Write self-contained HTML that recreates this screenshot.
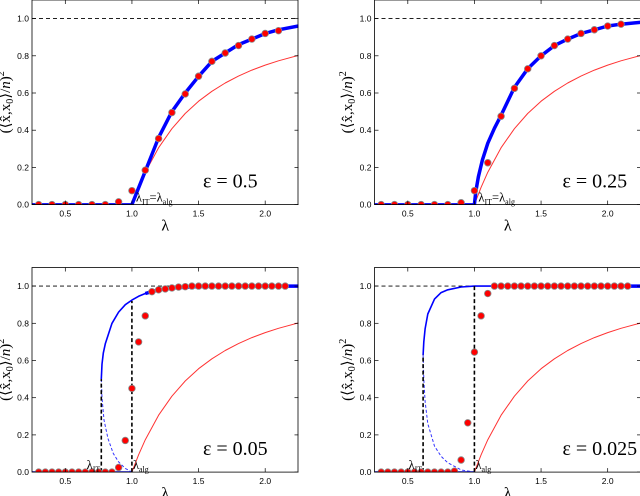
<!DOCTYPE html>
<html><head><meta charset="utf-8"><style>
body{margin:0;background:#fff;width:640px;height:496px;overflow:hidden}
svg{display:block}
text{font-family:"Liberation Sans",sans-serif}
.serif{font-family:"Liberation Serif","DejaVu Serif",serif}
</style></head><body>
<svg id="fig" width="640" height="496" viewBox="0 0 640 496" xmlns="http://www.w3.org/2000/svg"></svg>
<script>
// ---- data ----
const xTicks=[0.5,1.0,1.5,2.0];
const yTicks=[0.0,0.2,0.4,0.6,0.8,1.0];
const epsLabels=["0.5","0.25","0.05","0.025"];
// red reference curve (lambda, value)
const redX=[1.0,1.05,1.1,1.2,1.3,1.4,1.5,1.6,1.7,1.8,1.9,2.0,2.1,2.25];
const redY=[0,0.093,0.174,0.306,0.408,0.49,0.556,0.609,0.654,0.691,0.723,0.75,0.773,0.802];
// panel A eps=0.5
const aCurveX=[1.0,1.05,1.1,1.2,1.3,1.4,1.5,1.6,1.7,1.8,1.9,2.0,2.1,2.25];
const aCurveY=[0,0.09,0.18,0.36,0.5,0.6,0.69,0.77,0.815,0.86,0.89,0.92,0.94,0.96];
const aDotX=[0.3,0.4,0.5,0.6,0.7,0.8,0.9,1.0,1.1,1.2,1.3,1.4,1.5,1.6,1.7,1.8,1.9,2.0,2.1];
const aDotY=[0,0,0,0,0,0,0.015,0.075,0.185,0.355,0.495,0.595,0.69,0.77,0.815,0.855,0.89,0.92,0.935];
// panel B eps=0.25
const bCurveX=[1.0,1.01,1.03,1.06,1.1,1.15,1.2,1.3,1.4,1.5,1.6,1.7,1.8,1.9,2.0,2.1,2.25];
const bCurveY=[0,0.07,0.15,0.24,0.33,0.41,0.48,0.63,0.73,0.8,0.855,0.89,0.92,0.94,0.96,0.97,0.98];
const bDotX=[0.3,0.4,0.5,0.6,0.7,0.8,0.9,1.0,1.1,1.2,1.3,1.4,1.5,1.6,1.7,1.8,1.9,2.0,2.1];
const bDotY=[0,0,0,0,0,0,0.01,0.075,0.225,0.475,0.625,0.73,0.8,0.855,0.89,0.92,0.94,0.96,0.97];
// panel C eps=0.05
const cUpX=[0.77,0.775,0.785,0.8,0.85,0.9,0.95,1.0,1.05,1.1,1.2,1.3,1.5,1.8,2.25];
const cUpY=[0.5,0.58,0.64,0.69,0.8,0.86,0.9,0.925,0.945,0.96,0.98,0.99,0.998,1.0,1.0];
const cUnX=[0.77,0.775,0.79,0.82,0.86,0.9,0.95,1.0];
const cUnY=[0.5,0.4,0.28,0.18,0.1,0.055,0.02,0];
const cIT=0.77, cITtop=0.5, cALGtop=0.92;
const cDotX=[0.3,0.35,0.4,0.45,0.5,0.55,0.6,0.65,0.7,0.75,0.8,0.85,0.9,0.95,1.0,1.05,1.1,1.15,1.2,1.25,1.3,1.35,1.4,1.45,1.5,1.55,1.6,1.65,1.7,1.75,1.8,1.85,1.9,1.95,2.0,2.05,2.1,2.15];
const cDotY=[0,0,0,0,0,0,0,0,0,0,0,0,0.025,0.17,0.45,0.7,0.84,0.97,0.98,0.985,0.99,0.995,0.997,1,1,1,1,1,1,1,1,1,1,1,1,1,1,1];
// panel D eps=0.025
const dUpX=[0.615,0.62,0.63,0.65,0.7,0.75,0.8,0.9,1.0,1.2,2.25];
const dUpY=[0.63,0.7,0.77,0.85,0.93,0.965,0.98,0.995,1.0,1.0,1.0];
const dUnX=[0.615,0.62,0.63,0.65,0.7,0.75,0.8,0.9,1.0];
const dUnY=[0.63,0.5,0.38,0.26,0.14,0.085,0.05,0.012,0];
const dIT=0.615, dITtop=0.63, dALGtop=1.0;
const dDotX=[0.3,0.35,0.4,0.45,0.5,0.55,0.6,0.65,0.7,0.75,0.8,0.85,0.9,0.95,1.0,1.05,1.1,1.15,1.2,1.25,1.3,1.35,1.4,1.45,1.5,1.55,1.6,1.65,1.7,1.75,1.8,1.85,1.9,1.95,2.0,2.05,2.1,2.15];
const dDotY=[0,0,0,0,0,0,0,0,0,0,0,0.005,0.065,0.265,0.645,0.84,0.96,1,1,1,1,1,1,1,1,1,1,1,1,1,1,1,1,1,1,1,1,1];

const NS="http://www.w3.org/2000/svg";
const svg=document.getElementById('fig');
function mk(tag,attrs,parent){const e=document.createElementNS(NS,tag);for(const k in attrs)e.setAttribute(k,attrs[k]);(parent||svg).appendChild(e);return e;}
function panel(px,py,name){
  const W=266.5,H=204.6,xmin=0.25,xmax=2.25,ymax=1.1;
  const g=mk('g',{});
  
  
  const X=v=>px+(v-xmin)/(xmax-xmin)*W;
  const Y=v=>py+H-v/ymax*H;
  const cp=mk('clipPath',{id:'c'+name},g);
  mk('rect',{x:px,y:py,width:W,height:H},cp);
  const pg=mk('g',{'clip-path':'url(#c'+name+')'},g);
  return {g,pg,X,Y,px,py,W,H};
}
function line(P,xs,ys,attrs,name){
  const pts=xs.map((x,i)=>P.X(x).toFixed(1)+','+P.Y(ys[i]).toFixed(1)).join(' ');
  const e=mk('polyline',Object.assign({points:pts,fill:'none','stroke-linejoin':'round'},attrs),P.pg);
  
  
  return e;
}
function axes(P,eps,ylabelX,epsX){
  const g=P.g;
  mk('line',{x1:P.X(0.25),x2:P.X(2.25),y1:P.Y(1),y2:P.Y(1),stroke:'#000','stroke-width':0.9,'stroke-dasharray':'4,3'},P.pg);
  xTicks.forEach(t=>{const x=P.X(t);
    mk('line',{x1:x,x2:x,y1:P.py+P.H,y2:P.py+P.H-4,stroke:'#000','stroke-width':0.7},g);
    mk('line',{x1:x,x2:x,y1:P.py,y2:P.py+4,stroke:'#000','stroke-width':0.7},g);
    const t1=mk('text',{x:x,y:P.py+P.H+12,'font-size':8.5,'text-anchor':'middle'},g);t1.textContent=t.toFixed(1);
    });
  yTicks.forEach(t=>{const y=P.Y(t);
    mk('line',{x1:P.px,x2:P.px+4,y1:y,y2:y,stroke:'#000','stroke-width':0.7},g);
    mk('line',{x1:P.px+P.W,x2:P.px+P.W-4,y1:y,y2:y,stroke:'#000','stroke-width':0.7},g);
    const t1=mk('text',{x:P.px-3,y:y+3,'font-size':8.5,'text-anchor':'end'},g);t1.textContent=t.toFixed(1);
    });
  const fr=mk('rect',{x:P.px,y:P.py,width:P.W-0.5,height:P.H,fill:'none',stroke:'#000','stroke-width':0.8},g);
  
  const xl=mk('text',{x:P.px+P.W/2,y:P.py+P.H+26,'font-size':16,'text-anchor':'middle',class:'serif'},g);xl.textContent='λ';
  
  const yl=mk('text',{x:0,y:0,'font-size':15,'text-anchor':'middle',class:'serif',transform:`translate(${ylabelX},${P.py+P.H/2}) rotate(-90)`},g);
  yl.innerHTML='(⟨x̂,x<tspan font-size="10" dy="3">0</tspan><tspan dy="-3">⟩/</tspan><tspan font-style="italic">n</tspan>)<tspan font-size="10" dy="-6">2</tspan>';
  
  const el=mk('text',{x:P.px+epsX,y:P.py+P.H-17,'font-size':20,'text-anchor':'start',class:'serif'},g);
  el.innerHTML='ε = '+eps;
  
}
function dots(P,xs,ys){
  xs.forEach((x,i)=>{const c=mk('circle',{cx:P.X(x),cy:P.Y(ys[i]),r:3.3,fill:'#f00',stroke:'#888','stroke-width':0.8},P.pg);
    });
}
function sub(parent,x,y,anchor,html,name){
  const t=mk('text',{x:x,y:y,'font-size':12.5,'text-anchor':anchor,class:'serif'},parent);
  t.innerHTML=html;
  
}
// top panels
[[32,0,aCurveX,aCurveY,aDotX,aDotY,epsLabels[0],10,171],[374.5,0,bCurveX,bCurveY,bDotX,bDotY,epsLabels[1],352,188]].forEach((p,k)=>{
  const P=panel(p[0],p[1],k?'panel-eps-0-25':'panel-eps-0-5');
  axes(P,p[6],p[7],p[8]);
  line(P,redX,redY,{stroke:'#f33','stroke-width':1},'red-curve');
  line(P,[0.25,1.0],[0,0],{stroke:'#00f','stroke-width':3},'blue-zero-branch');
  line(P,p[2],p[3],{stroke:'#00f','stroke-width':3.5},'blue-curve');
  dots(P,p[4],p[5]);
  sub(P.g,P.X(1.03),P.Y(0)-3,'start','λ<tspan font-size="8" dy="3">IT</tspan><tspan dy="-3">=λ</tspan><tspan font-size="8" dy="3">alg</tspan>','threshold-label');
});
// bottom panels
[[32,267.5,cUpX,cUpY,cUnX,cUnY,cIT,cITtop,cALGtop,cDotX,cDotY,epsLabels[2],10,171],[374.5,267.5,dUpX,dUpY,dUnX,dUnY,dIT,dITtop,dALGtop,dDotX,dDotY,epsLabels[3],352,188]].forEach((p,k)=>{
  const P=panel(p[0],p[1],k?'panel-eps-0-025':'panel-eps-0-05');
  axes(P,p[11],p[12],p[13]);
  line(P,redX,redY,{stroke:'#f33','stroke-width':1},'red-curve');
  line(P,[0.25,1.0],[0,0],{stroke:'#00f','stroke-width':1.8},'blue-zero-branch');
  line(P,p[4],p[5],{stroke:'#33f','stroke-width':1,'stroke-dasharray':'3,2'},'blue-unstable-branch');
  const up=p[2],uy=p[3];
  line(P,up,uy,{stroke:'#00f','stroke-width':1.6},'blue-curve');
  line(P,up.filter(x=>x>=1.1),uy.filter((v,i)=>up[i]>=1.1),{stroke:'#00f','stroke-width':3.5},'blue-curve-thick');
  line(P,[p[6],p[6]],[0,p[7]],{stroke:'#000','stroke-width':1.6,'stroke-dasharray':'4,2.5'},'it-threshold-line');
  line(P,[1,1],[0,p[8]],{stroke:'#000','stroke-width':1.6,'stroke-dasharray':'4,2.5'},'alg-threshold-line');
  dots(P,p[9],p[10]);
  sub(P.g,P.X(p[6])-1,P.Y(0)-3,'end','λ<tspan font-size="8" dy="3">IT</tspan>','it-label');
  sub(P.g,P.X(1)+1,P.Y(0)-3,'start','λ<tspan font-size="8" dy="3">alg</tspan>','alg-label');
});
</script>
</body></html>
